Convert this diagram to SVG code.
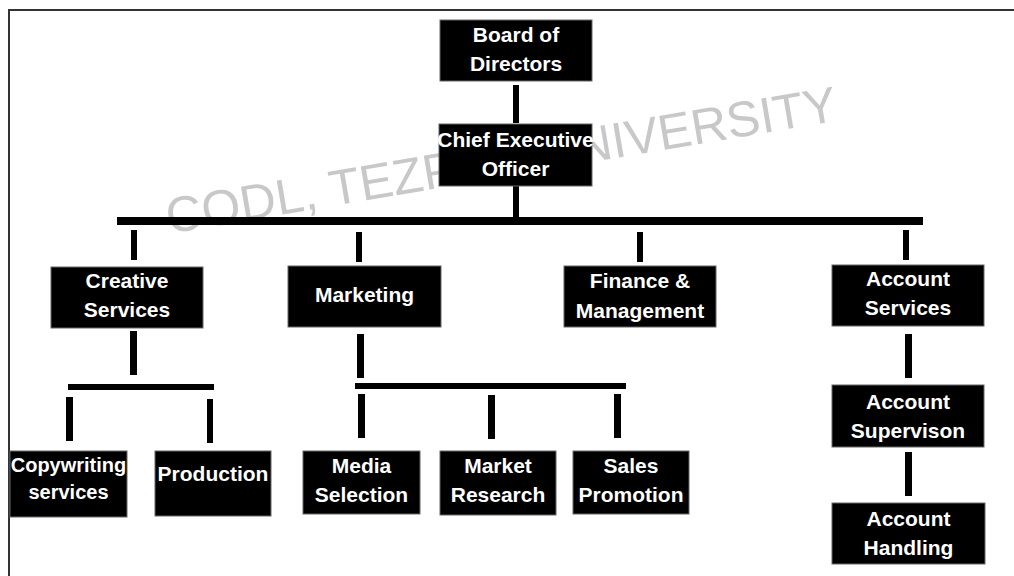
<svg xmlns="http://www.w3.org/2000/svg" width="1014" height="576" viewBox="0 0 1014 576">
<style>
.box{fill:#000;stroke:#666;stroke-width:1}
.lbl{font-family:"Liberation Sans",Arial,sans-serif;font-weight:bold;font-size:21px;fill:#fff;text-anchor:middle}
.bar{fill:#000}
.wm{font-family:"Liberation Sans",Arial,sans-serif;font-size:50px;fill:#c8c8c8;text-anchor:middle}
</style>
<rect x="0" y="0" width="1014" height="576" fill="#fff"/>
<rect x="9" y="10" width="1012" height="600" fill="none" stroke="#333" stroke-width="2"/>
<text class="wm" x="504" y="177" transform="rotate(-9.6 504 177)">CODL, TEZPUR UNIVERSITY</text>
<g id="connectors">
<rect class="bar" x="513" y="85" width="6" height="38"/>
<rect class="bar" x="513" y="186" width="6" height="32"/>
<rect class="bar" x="117" y="217" width="806" height="8"/>
<rect class="bar" x="131" y="230" width="6" height="30"/>
<rect class="bar" x="356" y="232" width="6" height="30"/>
<rect class="bar" x="637" y="232" width="6" height="30"/>
<rect class="bar" x="903" y="230" width="6" height="30"/>
<rect class="bar" x="130" y="331" width="7" height="44"/>
<rect class="bar" x="68" y="384" width="146" height="6"/>
<rect class="bar" x="66" y="397" width="7" height="44"/>
<rect class="bar" x="207" y="399" width="6" height="44"/>
<rect class="bar" x="357" y="334" width="7" height="44"/>
<rect class="bar" x="355" y="383" width="271" height="6"/>
<rect class="bar" x="358" y="394" width="7" height="44"/>
<rect class="bar" x="488" y="395" width="7" height="44"/>
<rect class="bar" x="614" y="394" width="7" height="44"/>
<rect class="bar" x="905" y="334" width="7" height="44"/>
<rect class="bar" x="905" y="452" width="7" height="44"/>
</g>
<g id="board">
<rect class="box" x="440" y="20" width="152" height="61"/>
<text class="lbl" x="516" y="42">Board of</text>
<text class="lbl" x="516" y="71">Directors</text>
</g>
<g id="ceo">
<rect class="box" x="439" y="124" width="153" height="62"/>
<text class="lbl" x="515.5" y="147">Chief Executive</text>
<text class="lbl" x="515.5" y="176">Officer</text>
</g>
<g id="creative">
<rect class="box" x="51" y="267" width="152" height="61"/>
<text class="lbl" x="127" y="288">Creative</text>
<text class="lbl" x="127" y="317">Services</text>
</g>
<g id="marketing">
<rect class="box" x="288" y="266" width="153" height="61"/>
<text class="lbl" x="364.5" y="302">Marketing</text>
</g>
<g id="finance">
<rect class="box" x="564" y="266" width="152" height="61"/>
<text class="lbl" x="640" y="288">Finance &amp;</text>
<text class="lbl" x="640" y="318">Management</text>
</g>
<g id="account-services">
<rect class="box" x="832" y="265" width="152" height="61"/>
<text class="lbl" x="908" y="286">Account</text>
<text class="lbl" x="908" y="315">Services</text>
</g>
<g id="copywriting">
<rect class="box" x="10" y="451" width="117" height="66"/>
<text class="lbl" x="68.5" y="472" style="font-size:20px">Copywriting</text>
<text class="lbl" x="68.5" y="499" style="font-size:20px">services</text>
</g>
<g id="production">
<rect class="box" x="155" y="451" width="116" height="65"/>
<text class="lbl" x="213" y="481">Production</text>
</g>
<g id="media">
<rect class="box" x="303" y="451" width="117" height="63"/>
<text class="lbl" x="361.5" y="473">Media</text>
<text class="lbl" x="361.5" y="502">Selection</text>
</g>
<g id="research">
<rect class="box" x="440" y="451" width="116" height="64"/>
<text class="lbl" x="498" y="473">Market</text>
<text class="lbl" x="498" y="502">Research</text>
</g>
<g id="sales">
<rect class="box" x="573" y="451" width="116" height="63"/>
<text class="lbl" x="631" y="473">Sales</text>
<text class="lbl" x="631" y="502">Promotion</text>
</g>
<g id="supervision">
<rect class="box" x="832" y="385" width="152" height="62"/>
<text class="lbl" x="908" y="409">Account</text>
<text class="lbl" x="908" y="438">Supervison</text>
</g>
<g id="handling">
<rect class="box" x="832" y="503" width="153" height="61"/>
<text class="lbl" x="908.5" y="526">Account</text>
<text class="lbl" x="908.5" y="555">Handling</text>
</g>
</svg>
